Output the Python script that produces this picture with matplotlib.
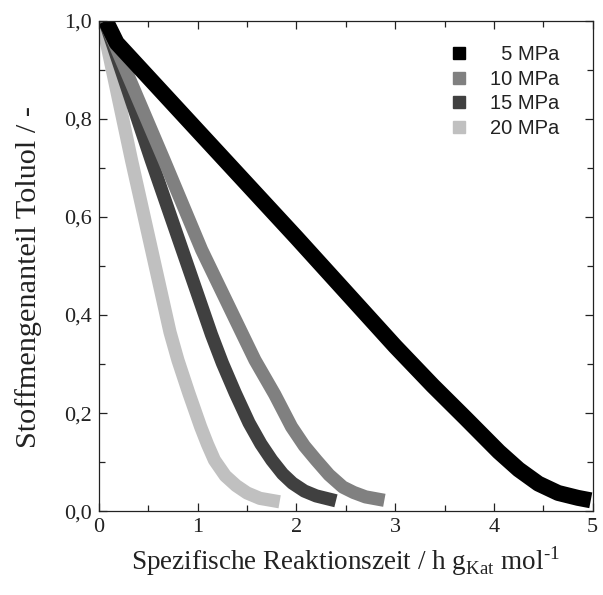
import matplotlib
matplotlib.use("Agg")
import matplotlib.pyplot as plt
from matplotlib.ticker import MultipleLocator, FixedLocator
from matplotlib.lines import Line2D

# Toluene mole fraction vs. specific reaction time at four pressures
labels = ["\u20075 MPa", "10 MPa", "15 MPa", "20 MPa"]
colors = ["#000000", "#808080", "#404040", "#c0c0c0"]

t_5 = [0.07, 0.18, 1.00, 2.00, 3.00, 3.38, 3.71, 4.05, 4.25, 4.45, 4.65, 4.85, 4.98]
x_5 = [1.00, 0.955, 0.776, 0.558, 0.336, 0.256, 0.190, 0.121, 0.085, 0.056, 0.037, 0.027, 0.022]

t_10 = [0.06, 0.66, 1.04, 1.45, 1.58, 1.78, 1.95, 2.08, 2.20, 2.33, 2.47, 2.58, 2.70, 2.89]
x_10 = [1.00, 0.716, 0.533, 0.362, 0.308, 0.238, 0.172, 0.133, 0.104, 0.074, 0.049, 0.038, 0.029, 0.022]

t_15 = [0.06, 0.53, 1.14, 1.25, 1.38, 1.52, 1.64, 1.75, 1.86, 1.96, 2.08, 2.20, 2.40]
x_15 = [1.00, 0.716, 0.360, 0.302, 0.241, 0.180, 0.137, 0.104, 0.076, 0.057, 0.041, 0.031, 0.021]

t_20 = [0.03, 0.33, 0.72, 0.80, 0.91, 1.03, 1.10, 1.17, 1.28, 1.39, 1.50, 1.63, 1.83]
x_20 = [1.00, 0.716, 0.365, 0.308, 0.241, 0.172, 0.136, 0.104, 0.072, 0.052, 0.037, 0.026, 0.019]

series_t = [t_5, t_10, t_15, t_20]
series_x = [x_5, x_10, x_15, x_20]
widths = [11.5, 9.5, 9.5, 9.5]

x_ticks = [0, 1, 2, 3, 4, 5]
x_ticklabels = ["0", "1", "2", "3", "4", "5"]
y_ticks = [0.0, 0.2, 0.4, 0.6, 0.8, 1.0]
y_ticklabels = ["0,0", "0,2", "0,4", "0,6", "0,8", "1,0"]

fig = plt.figure(figsize=(6.03, 5.95), dpi=100)
ax = fig.add_axes([0.164, 0.141, 0.819, 0.824])

# draw in reverse so the 5 MPa band stays on top
for t, x, c, w in reversed(list(zip(series_t, series_x, colors, widths))):
    ax.plot(t, x, color=c, lw=w, solid_capstyle="butt", solid_joinstyle="round")

ax.set_xlim(0, 5)
ax.set_ylim(0, 1)

serif = ["Liberation Serif", "DejaVu Serif"]
ax.xaxis.set_major_locator(FixedLocator(x_ticks))
ax.xaxis.set_minor_locator(MultipleLocator(0.5))
ax.yaxis.set_major_locator(FixedLocator(y_ticks))
ax.yaxis.set_minor_locator(MultipleLocator(0.1))
ax.set_xticklabels(x_ticklabels, family=serif, fontsize=16, color="#222222")
ax.set_yticklabels(y_ticklabels, family=serif, fontsize=16, color="#222222")
ax.tick_params(which="both", direction="in", top=True, right=True, width=0.9, colors="#222222")
ax.tick_params(which="major", length=6, pad=5)
ax.tick_params(which="minor", length=4)
for s in ax.spines.values():
    s.set_linewidth(0.9)
    s.set_color("#222222")

ax.set_xlabel("Spezifische Reaktionszeit / h g$_{\\mathregular{Kat}}$ mol$^{\\mathregular{\u20101}}$",
              family=serif, fontsize=19.5, color="#222222", labelpad=5)
ax.set_ylabel("Stoffmengenanteil Toluol / -", family=serif, fontsize=21.8,
              color="#222222")
ax.yaxis.set_label_coords(-0.115, 0.478)

handles = [Line2D([], [], ls="none", marker="s", ms=8, color=c) for c in colors]
leg = ax.legend(handles, labels, loc="upper left", bbox_to_anchor=(0.696, 0.959),
                frameon=False, prop={"family": "Liberation Sans", "size": 14.5},
                handletextpad=0.95, labelspacing=0.28, handlelength=1.2,
                borderaxespad=0, borderpad=0.2)
for txt in leg.get_texts():
    txt.set_color("#222222")

fig.savefig("out.png", dpi=100)
